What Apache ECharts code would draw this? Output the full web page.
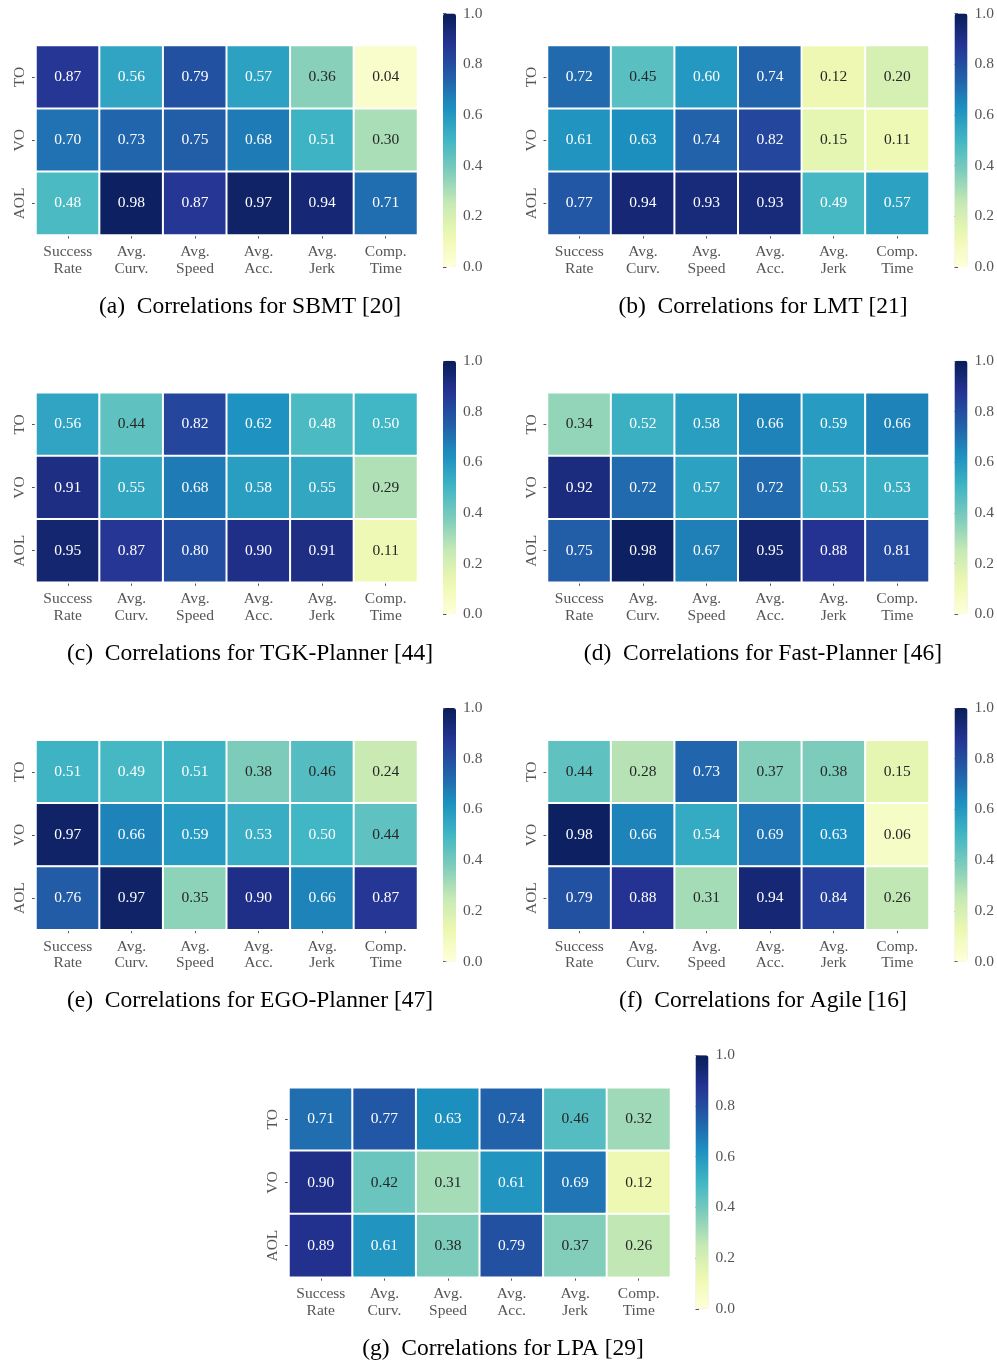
<!DOCTYPE html>
<html>
<head>
<meta charset="utf-8">
<script src="https://cdn.jsdelivr.net/npm/echarts@6/dist/echarts.min.js"></script>
<style>
html,body{margin:0;padding:0;background:#fff;}
#chart{width:997px;height:1361px;}
</style>
</head>
<body>
<div id="chart"></div>
<script>
// ---------- data ----------
const metricLabels = ['Success\nRate', 'Avg.\nCurv.', 'Avg.\nSpeed', 'Avg.\nAcc.', 'Avg.\nJerk', 'Comp.\nTime'];
const rowLabels = ['TO', 'VO', 'AOL'];
const colorbarTicks = [0, 0.2, 0.4, 0.6, 0.8, 1.0];

const sbmtValues = [
  [0.87, 0.56, 0.79, 0.57, 0.36, 0.04],
  [0.70, 0.73, 0.75, 0.68, 0.51, 0.30],
  [0.48, 0.98, 0.87, 0.97, 0.94, 0.71]
];
const lmtValues = [
  [0.72, 0.45, 0.60, 0.74, 0.12, 0.20],
  [0.61, 0.63, 0.74, 0.82, 0.15, 0.11],
  [0.77, 0.94, 0.93, 0.93, 0.49, 0.57]
];
const tgkValues = [
  [0.56, 0.44, 0.82, 0.62, 0.48, 0.50],
  [0.91, 0.55, 0.68, 0.58, 0.55, 0.29],
  [0.95, 0.87, 0.80, 0.90, 0.91, 0.11]
];
const fastValues = [
  [0.34, 0.52, 0.58, 0.66, 0.59, 0.66],
  [0.92, 0.72, 0.57, 0.72, 0.53, 0.53],
  [0.75, 0.98, 0.67, 0.95, 0.88, 0.81]
];
const egoValues = [
  [0.51, 0.49, 0.51, 0.38, 0.46, 0.24],
  [0.97, 0.66, 0.59, 0.53, 0.50, 0.44],
  [0.76, 0.97, 0.35, 0.90, 0.66, 0.87]
];
const agileValues = [
  [0.44, 0.28, 0.73, 0.37, 0.38, 0.15],
  [0.98, 0.66, 0.54, 0.69, 0.63, 0.06],
  [0.79, 0.88, 0.31, 0.94, 0.84, 0.26]
];
const lpaValues = [
  [0.71, 0.77, 0.63, 0.74, 0.46, 0.32],
  [0.90, 0.42, 0.31, 0.61, 0.69, 0.12],
  [0.89, 0.61, 0.38, 0.79, 0.37, 0.26]
];
const panelTitles = [
  '(a)\u2002Correlations for SBMT [20]',
  '(b)\u2002Correlations for LMT [21]',
  '(c)\u2002Correlations for TGK-Planner [44]',
  '(d)\u2002Correlations for Fast-Planner [46]',
  '(e)\u2002Correlations for EGO-Planner [47]',
  '(f)\u2002Correlations for Agile [16]',
  '(g)\u2002Correlations for LPA [29]'
];
const panelValues = [sbmtValues, lmtValues, tgkValues, fastValues, egoValues, agileValues, lpaValues];

// ---------- style / layout ----------
const YlGnBu = ['#ffffd9', '#edf8b1', '#c7e9b4', '#7fcdbb', '#41b6c4', '#1d91c0', '#225ea8', '#253494', '#081d58'];
const FONT = '"Liberation Serif", "Times New Roman", serif';
const TICKC = '#555555';
const rowTops = [45.5, 392.8, 740.2, 1087.7];
const cbTops = [13.5, 360.8, 708.0, 1055.3];
const titleYs = [306.5, 653.5, 1001, 1348.5];
const layout = [
  {gx: 36, cbx: 443, tx: 250, r: 0},
  {gx: 547.5, cbx: 954.5, tx: 763, r: 0},
  {gx: 36, cbx: 443, tx: 250, r: 1},
  {gx: 547.5, cbx: 954.5, tx: 763, r: 1},
  {gx: 36, cbx: 443, tx: 250, r: 2},
  {gx: 547.5, cbx: 954.5, tx: 763, r: 2},
  {gx: 289, cbx: 695.5, tx: 503, r: 3}
];
const GW = 381.5, GH = 189.5, CBW = 13, CBH = 253.5;

function hexToRgb(h) { return [parseInt(h.substr(1,2),16), parseInt(h.substr(3,2),16), parseInt(h.substr(5,2),16)]; }
function cmap(v) {
  const n = YlGnBu.length - 1;
  const p = Math.max(0, Math.min(1, v)) * n;
  const i = Math.min(n - 1, Math.floor(p));
  const t = p - i;
  const a = hexToRgb(YlGnBu[i]), b = hexToRgb(YlGnBu[i + 1]);
  return a.map((c, k) => c + (b[k] - c) * t);
}
function lum(rgb) {
  const l = rgb.map(c => { c /= 255; return c <= 0.03928 ? c / 12.92 : Math.pow((c + 0.055) / 1.055, 2.4); });
  return 0.2126 * l[0] + 0.7152 * l[1] + 0.0722 * l[2];
}

const grid = [], xAxis = [], yAxis = [], series = [], visualMap = [], graphic = [];

layout.forEach((L, p) => {
  const top = rowTops[L.r];
  grid.push({left: L.gx, top: top, width: GW, height: GH, containLabel: false});
  const gi = grid.length - 1;
  xAxis.push({
    type: 'category', gridIndex: gi, data: metricLabels, position: 'bottom',
    axisLine: {show: false},
    axisTick: {show: true, alignWithLabel: true, length: 3.5, lineStyle: {color: TICKC, width: 1}},
    axisLabel: {color: TICKC, fontFamily: FONT, fontSize: 15.5, lineHeight: 16.7, margin: 8.5, interval: 0},
    splitLine: {show: false}
  });
  yAxis.push({
    type: 'category', gridIndex: gi, data: rowLabels, inverse: true,
    axisLine: {show: false},
    axisTick: {show: true, alignWithLabel: true, length: 4, lineStyle: {color: TICKC, width: 1}},
    axisLabel: {color: TICKC, fontFamily: FONT, fontSize: 15.5, rotate: 90, margin: 8, interval: 0},
    splitLine: {show: false}
  });
  const vals = panelValues[p];
  const data = [];
  vals.forEach((row, ri) => row.forEach((v, ci) => {
    data.push({value: [ci, ri, v], label: {color: lum(cmap(v)) > 0.408 ? '#262626' : '#ffffff'}});
  }));
  series.push({
    type: 'heatmap', xAxisIndex: gi, yAxisIndex: gi, data: data,
    itemStyle: {borderColor: '#ffffff', borderWidth: 2},
    label: {show: true, fontFamily: FONT, fontSize: 15.5, formatter: (prm) => prm.value[2].toFixed(2)},
    emphasis: {disabled: true}
  });
  visualMap.push({
    type: 'continuous', seriesIndex: series.length - 1, min: 0, max: 1,
    calculable: false, hoverLink: false, orient: 'vertical',
    left: L.cbx, top: cbTops[L.r], itemWidth: CBW, itemHeight: CBH, padding: 0,
    inRange: {color: YlGnBu}, showLabel: false
  });
  grid.push({left: L.cbx, top: cbTops[L.r], width: CBW, height: CBH, containLabel: false});
  const ci = grid.length - 1;
  xAxis.push({type: 'value', gridIndex: ci, show: false, min: 0, max: 1});
  yAxis.push({
    type: 'value', gridIndex: ci, position: 'right', min: 0, max: 1, interval: 0.2,
    axisLine: {show: false},
    axisTick: {show: true, length: 3.5, lineStyle: {color: TICKC, width: 1}},
    axisLabel: {color: TICKC, fontFamily: FONT, fontSize: 15.5, margin: 7,
      formatter: (v) => {
        const m = colorbarTicks.find(t => Math.abs(t - v) < 1e-6);
        return (m !== undefined ? m : v).toFixed(1);
      }},
    splitLine: {show: false}
  });
  graphic.push({
    type: 'text', x: L.tx, y: titleYs[L.r],
    style: {text: panelTitles[p], fill: '#000000', font: '23.5px "Liberation Serif", "Times New Roman", serif', textAlign: 'center', textVerticalAlign: 'middle'}
  });
});

const chart = echarts.init(document.getElementById('chart'), null, {renderer: 'canvas'});
chart.setOption({
  backgroundColor: '#ffffff',
  animation: false,
  grid: grid, xAxis: xAxis, yAxis: yAxis, series: series, visualMap: visualMap, graphic: graphic
});
</script>
</body>
</html>
